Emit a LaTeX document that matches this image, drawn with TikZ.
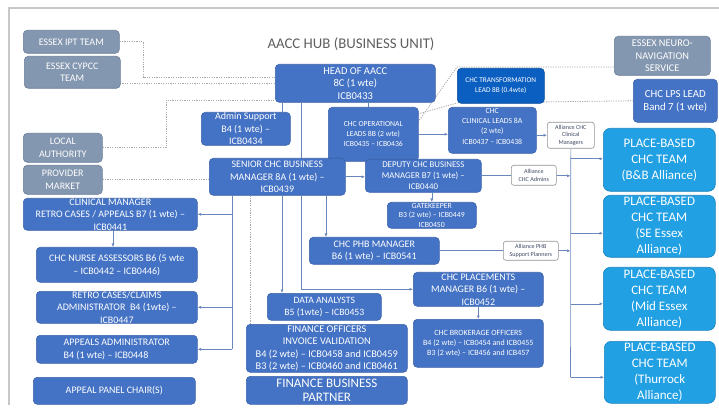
\documentclass[tikz,border=0pt]{standalone}
\usepackage{fontspec}
\setmainfont{Carlito}
\usetikzlibrary{arrows.meta}
\pgfdeclarelayer{background}
\pgfsetlayers{background,main}

\definecolor{hub}{HTML}{4472C4}
\definecolor{hubedge}{HTML}{3A62AA}
\definecolor{ext}{HTML}{8497B0}
\definecolor{extedge}{HTML}{6B7D98}
\definecolor{trans}{HTML}{0B5FC1}
\definecolor{place}{HTML}{21A0E3}
\definecolor{placeedge}{HTML}{1A84C0}
\definecolor{wire}{HTML}{6A87BD}
\definecolor{dots}{HTML}{A8A8A8}
\definecolor{frame}{HTML}{C8C8C8}
\definecolor{titlegrey}{HTML}{5E5E5E}
\definecolor{notegrey}{HTML}{3F4A63}

\newcommand\fz[2]{\fontsize{#1}{#2}\selectfont}
% box: name, style, x, y (top-left), width, height, font, text
\newcommand\cardbox[8]{%
  \node[#2, minimum width=#5pt, minimum height=#6pt] (#1) at (#3,#4) {};
  \node[lbl, font={#7}] (#1-t) at (#1.center) {#8};}
% small white annotation box on a connector
\newcommand\notebox[6]{%
  \node[notecard, minimum width=#4pt, minimum height=#5pt] (#1) at (#2,#3) {};
  \node[notelbl] (#1-t) at (#1.center) {#6};}

\tikzset{
  card/.style={draw=hubedge, fill=hub, rounded corners=4pt, line width=0.6pt,
               anchor=north west, inner sep=0pt},
  extcard/.style={card, draw=extedge, fill=ext},
  transcard/.style={card, draw=trans!80!black, fill=trans},
  placecard/.style={card, draw=placeedge, fill=place, rounded corners=7pt},
  notecard/.style={card, draw=gray!85, fill=white, rounded corners=2.5pt},
  lbl/.style={text=white, align=center, inner sep=0pt},
  notelbl/.style={lbl, text=notegrey, font=\fz{6.1}{7.4}},
  wireline/.style={draw=wire, line width=0.6pt},
  wirearrow/.style={wireline, -{Latex[length=3.5pt,width=3pt]}},
  dotline/.style={draw=dots, line width=0.8pt, dash pattern=on 1.2pt off 1.2pt},
}

\begin{document}
\begin{tikzpicture}[x=1pt,y=-1pt]
\useasboundingbox (0,0) rectangle (719,411);

% page frame
\draw[frame, line width=1.5pt] (9,405) -- (9,8) -- (719,8);

% title
\node[font=\fz{14.8}{17}, text=titlegrey] (title) at (351,44) {AACC HUB (BUSINESS UNIT)};

% external partners
\cardbox{ipt}{extcard}{23}{30}{96}{23}{\fz{10}{12.5}}{ESSEX IPT TEAM}
\cardbox{cypcc}{extcard}{24}{56}{96}{32}{\fz{10}{12.5}}{ESSEX CYPCC\\TEAM}
\cardbox{la}{extcard}{23}{133}{79}{29}{\fz{10}{12.5}}{LOCAL\\AUTHORITY}
\cardbox{pm}{extcard}{23}{165}{79}{29}{\fz{10}{12.5}}{PROVIDER\\MARKET}
\cardbox{neuro}{extcard}{614}{36}{96}{39}{\fz{10.3}{12.5}}{ESSEX NEURO-\\NAVIGATION\\SERVICE}

% retro cases / appeals column
\cardbox{cm}{card}{23}{198}{174}{32}{\fz{10}{12.5}}{CLINICAL MANAGER\\RETRO CASES / APPEALS B7 (1 wte) --\\ICB0441}
\cardbox{nurse}{card}{36}{247}{161}{35}{\fz{10}{12.5}}{CHC NURSE ASSESSORS B6 (5 wte\\-- ICB0442 -- ICB0446)}
\cardbox{retro}{card}{36}{291}{161}{32}{\fz{10}{12.5}}{RETRO CASES/CLAIMS\\ADMINISTRATOR\ \ B4 (1wte) --\\ICB0447}
\node[card, minimum width=161pt, minimum height=28pt] (appadm) at (36,335) {};
\node[lbl, align=left, font=\fz{10}{12.5}] (appadm-t) at (appadm.center) {APPEALS ADMINISTRATOR\\B4 (1 wte) -- ICB0448};
\cardbox{panel}{card}{33}{377}{162}{27}{\fz{10}{12.5}}{APPEAL PANEL CHAIR(S)}

% hub management
\cardbox{head}{card}{275}{64}{160}{38}{\fz{10.5}{12.5}}{HEAD OF AACC\\8C (1 wte)\\ICB0433}
\cardbox{admin}{card}{201}{112}{89}{33}{\fz{10}{12.5}}{Admin Support\\B4 (1 wte) --\\ICB0434}
\cardbox{ops}{card}{328}{107}{90}{54}{\fz{7.7}{9.8}}{CHC OPERATIONAL\\LEADS 8B (2 wte)\\ICB0435 -- ICB0436}
\cardbox{trans}{transcard}{457}{68}{87}{35}{\fz{7.3}{9.5}}{CHC TRANSFORMATION\\LEAD 8B (0.4wte)}
\node[card, minimum width=88pt, minimum height=46pt] (clin) at (448,107) {};
\node[lbl, font=\fz{7.8}{10.3}] (clin-t) at ([yshift=4pt]clin.center) {CHC\\CLINICAL LEADS 8A\\(2 wte)\\ICB0437 -- ICB0438};
\cardbox{lps}{card}{633}{79}{84}{43}{\fz{10.8}{13}}{CHC LPS LEAD\\Band 7 (1 wte)}
\cardbox{senior}{card}{209}{158}{136}{37}{\fz{10}{12.5}}{SENIOR CHC BUSINESS\\MANAGER 8A (1 wte) --\\ICB0439}
\cardbox{deputy}{card}{365}{159}{116}{33}{\fz{8.8}{11}}{DEPUTY CHC BUSINESS\\MANAGER B7 (1 wte) --\\ICB0440}
\cardbox{gate}{card}{387}{202}{89}{26}{\fz{7.8}{9.8}}{GATEKEEPER\\B3 (2 wte) -- ICB0449\\ICB0450}
\cardbox{phb}{card}{309}{237}{130}{27}{\fz{10}{12}}{CHC PHB MANAGER\\B6 (1 wte) -- ICB0541}
\cardbox{place}{card}{413}{272}{130}{34}{\fz{10}{12.5}}{CHC PLACEMENTS\\MANAGER B6 (1 wte) --\\ICB0452}
\cardbox{broker}{card}{413}{319}{130}{48}{\fz{8}{10}}{CHC BROKERAGE OFFICERS\\B4 (2 wte) -- ICB0454 and ICB0455\\B3 (2 wte) -- ICB456 and ICB457}
\cardbox{data}{card}{267}{293}{114}{27}{\fz{9.7}{12}}{DATA ANALYSTS\\B5 (1wte) -- ICB0453}
\cardbox{fin}{card}{246}{324}{161}{48}{\fz{10.3}{12.3}}{FINANCE OFFICERS\\INVOICE VALIDATION\\B4 (2 wte) -- ICB0458 and ICB0459\\B3 (2 wte) -- ICB0460 and ICB0461}
\cardbox{fbp}{card}{246}{376}{161}{28}{\fz{13}{14.5}}{FINANCE BUSINESS\\PARTNER}

% alliance links
\notebox{acm}{547}{122}{47}{26}{Alliance CHC\\Clinical\\Managers}
\notebox{aadm}{511}{165}{45}{20}{Alliance\\CHC Admins}
\notebox{aphb}{503}{241}{55}{19}{Alliance PHB\\Support Planners}

% place-based teams
\cardbox{pb1}{placecard}{603}{128}{112}{63}{\fz{13}{16}}{PLACE-BASED\\CHC TEAM\\(B\&B Alliance)}
\cardbox{pb2}{placecard}{603}{195}{112}{62}{\fz{13}{16}}{PLACE-BASED\\CHC TEAM\\(SE Essex\\Alliance)}
\cardbox{pb3}{placecard}{603}{267}{112}{63}{\fz{13}{16}}{PLACE-BASED\\CHC TEAM\\(Mid Essex\\Alliance)}
\cardbox{pb4}{placecard}{604}{341}{111}{62}{\fz{13}{16}}{PLACE-BASED\\CHC TEAM\\(Thurrock\\Alliance)}

% bus positions
\coordinate (ipt-turn) at (143,77);
\coordinate (cypcc-out) at (120,83);
\coordinate (la-turn) at (166,100);
\coordinate (finbus) at (250,0);
\coordinate (leftbus) at (232,0);
\coordinate (xa) at (282,0);
\coordinate (xb) at (301,0);
\coordinate (xc) at (368,0);
\coordinate (xd) at (326,0);
\coordinate (nursebus) at (113,0);
\coordinate (ops-out) at (418,122);
\coordinate (ops-out2) at (418,114);
\coordinate (neuro-turn) at (457,67);
\coordinate (lps-turn) at (457,103);
\coordinate (bus) at (570.5,0);

\begin{pgfonlayer}{background}
  % dotted partner links
  \draw[dotline] (ipt.east) -| (ipt-turn) -- (ipt-turn -| head.west);
  \draw[dotline] (cypcc-out) -- (cypcc-out -| head.west);
  \draw[dotline] (la.east) -| (la-turn) -- (la-turn -| head.west);
  \draw[dotline] (pm.east) -- (pm.east -| senior.west);
  \draw[dotline] (finbus |- senior.south) -- (finbus |- fin.north);
  \draw[dotline] (ops-out) -- (neuro-turn) -- (neuro-turn -| neuro.west);
  \draw[dotline] (ops-out2) -- (lps-turn) -- (lps.west);

  % reporting lines from the head of service
  \draw[wireline] (xa |- head.south) -- (xa |- admin.north);
  \draw[wireline] (xb |- head.south) -- (xb |- senior.north);
  \draw[wireline] (xc |- head.south) -- (xc |- ops.north);

  % senior business manager reports
  \draw[wireline] (leftbus |- senior.south) -- (leftbus |- appadm.east);
  \draw[wirearrow] (leftbus |- cm.east) -- (cm.east);
  \draw[wirearrow] (leftbus |- retro.east) -- (retro.east);
  \draw[wirearrow] (leftbus |- appadm.east) -- (appadm.east);
  \draw[wirearrow] (xa |- senior.south) -- (xa |- data.north);
  \draw[wirearrow] (xb |- senior.south) |- (place.west);
  \draw[wirearrow] (xd |- senior.south) -- (xd |- phb.north);
  \draw[wirearrow] (senior.east) -- (senior.east -| deputy.west);
  \draw[wirearrow] (gate.north |- deputy.south) -- (gate.north);
  \draw[wirearrow] (nursebus |- cm.south) -- (nursebus |- nurse.north);
  \draw[wirearrow] (broker.north |- place.south) -- (broker.north);

  % clinical leads
  \draw[wirearrow] (ops.east) -- (ops.east -| clin.west);
  \draw[wirearrow] (clin.east |- acm.west) -- (acm.west);

  % alliance distribution bus
  \draw[wirearrow] (deputy.east) -- (deputy.east -| bus);
  \draw[wirearrow] (phb.east) -- (phb.east -| bus);
  \draw[wireline] (acm.south) -- ([yshift=-5pt]bus |- pb4.west);
  \draw[wirearrow] ([yshift=1pt]bus |- pb1.west) -- ([yshift=1pt]pb1.west);
  \draw[wirearrow] ([yshift=-7pt]bus |- pb2.west) -- ([yshift=-7pt]pb2.west);
  \draw[wirearrow] ([yshift=-5pt]bus |- pb3.west) -- ([yshift=-5pt]pb3.west);
  \draw[wirearrow] ([yshift=-5pt]bus |- pb4.west) -- ([yshift=-5pt]pb4.west);
\end{pgfonlayer}
\end{tikzpicture}
\end{document}
